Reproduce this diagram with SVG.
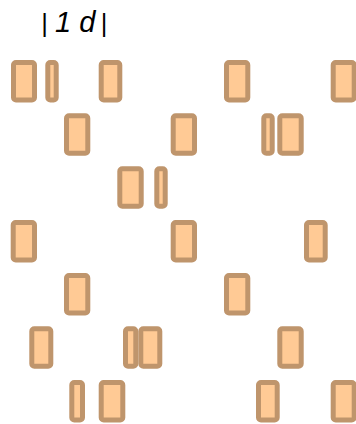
<svg xmlns="http://www.w3.org/2000/svg" width="356" height="424" viewBox="0 0 356 424">
<style>
.n rect{fill:#ffca95;stroke:#bf956c;stroke-width:5}
.t{font-family:"Liberation Sans",Arial,sans-serif;font-size:25.5px;fill:#000}
.i{font-style:italic;font-size:29px}
</style>
<rect width="356" height="424" fill="#fff"/>
<text class="t" y="31.5" xml:space="preserve"><tspan x="41.3">|</tspan><tspan class="i" x="55">1 d</tspan><tspan x="100.7">|</tspan></text>
<g id="r1a" class="n"><rect x="13.5" y="62.5" width="21" height="37.5" rx="2.5"/></g>
<g id="r1b" class="n"><rect x="47.8" y="62.5" width="8.4" height="37.5" rx="2.5"/></g>
<g id="r1c" class="n"><rect x="101.2" y="62.5" width="18.6" height="37.5" rx="2.5"/></g>
<g id="r1d" class="n"><rect x="226.5" y="62.5" width="21.3" height="37.5" rx="2.5"/></g>
<g id="r1e" class="n"><rect x="333.2" y="62.5" width="21" height="37.5" rx="2.5"/></g>
<g id="r2a" class="n"><rect x="66.5" y="115.8" width="21.3" height="37.5" rx="2.5"/></g>
<g id="r2b" class="n"><rect x="173.2" y="115.8" width="21.3" height="37.5" rx="2.5"/></g>
<g id="r2c" class="n"><rect x="263.8" y="115.8" width="8.4" height="37.5" rx="2.5"/></g>
<g id="r2d" class="n"><rect x="279.8" y="115.8" width="21.4" height="37.5" rx="2.5"/></g>
<g id="r3a" class="n"><rect x="119.8" y="168.8" width="21.4" height="37.5" rx="2.5"/></g>
<g id="r3b" class="n"><rect x="156.8" y="168.8" width="8.4" height="37.5" rx="2.5"/></g>
<g id="r4a" class="n"><rect x="13.2" y="222.5" width="21.3" height="37.5" rx="2.5"/></g>
<g id="r4b" class="n"><rect x="173.2" y="222.5" width="21.3" height="37.5" rx="2.5"/></g>
<g id="r4c" class="n"><rect x="306.5" y="222.5" width="18.7" height="37.5" rx="2.5"/></g>
<g id="r5a" class="n"><rect x="66.5" y="275.5" width="21.3" height="37.5" rx="2.5"/></g>
<g id="r5b" class="n"><rect x="226.5" y="275.5" width="21.3" height="37.5" rx="2.5"/></g>
<g id="r6a" class="n"><rect x="31.8" y="328.8" width="19" height="37.5" rx="2.5"/></g>
<g id="r6b" class="n"><rect x="125.5" y="328.8" width="10.3" height="37.5" rx="2.5"/></g>
<g id="r6c" class="n"><rect x="140.8" y="328.8" width="19" height="37.5" rx="2.5"/></g>
<g id="r6d" class="n"><rect x="279.8" y="328.8" width="21.4" height="37.5" rx="2.5"/></g>
<g id="r7a" class="n"><rect x="71.8" y="382.5" width="10.7" height="37.5" rx="2.5"/></g>
<g id="r7b" class="n"><rect x="101.2" y="382.5" width="21.6" height="37.5" rx="2.5"/></g>
<g id="r7c" class="n"><rect x="258.5" y="382.5" width="18.7" height="37.5" rx="2.5"/></g>
<g id="r7d" class="n"><rect x="333.2" y="382.5" width="21" height="37.5" rx="2.5"/></g>
<g id="connectors"/>
</svg>
